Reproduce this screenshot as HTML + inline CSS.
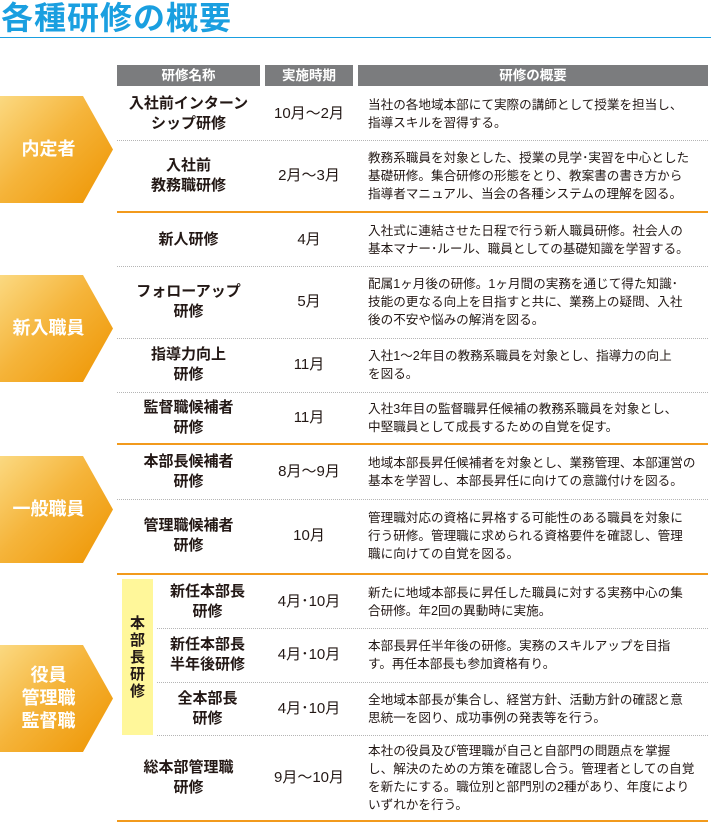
<!DOCTYPE html>
<html><head><meta charset="utf-8"><style>
*{margin:0;padding:0;box-sizing:border-box}
body{width:711px;height:823px;background:#fff;position:relative;overflow:hidden;font-family:"Liberation Sans","Noto Sans CJK JP",sans-serif;color:#231815}
.title{position:absolute;left:1px;top:0px;font-size:32px;font-weight:bold;color:#1a9fe0;letter-spacing:1px;line-height:36px}
.tline{position:absolute;left:0;top:37px;width:711px;height:1px;background:#1a9fe0}
.hd{position:absolute;top:65px;height:21px;background:#7b7c7e;color:#fff;font-size:13.5px;font-weight:bold;text-align:center;line-height:21px}
.ab{position:absolute}
.nm{position:absolute;left:117px;width:143px;text-align:center;font-size:15px;font-weight:bold;line-height:20px;display:flex;align-items:center;justify-content:center}
.pd{position:absolute;left:262px;width:94px;text-align:center;font-size:15px;line-height:20px;display:flex;align-items:center;justify-content:center}
.ds{position:absolute;left:368px;width:345px;font-size:12.6px;line-height:18px;display:flex;align-items:center;white-space:nowrap}
.dot{position:absolute;left:117px;width:591px;height:0;border-top:1px dotted #b5b5b5}
.or{position:absolute;left:117px;width:591px;height:2px;background:#f29a1c}
.chev{position:absolute;left:0;width:113px;clip-path:polygon(0 0,83px 0,113px 50%,83px 100%,0 100%);background:linear-gradient(135deg,#fbd981 0%,#f5b43a 45%,#ee9400 100%);color:#fff;font-weight:bold;font-size:18px;line-height:23px;display:flex;align-items:center;justify-content:center;padding-right:16px;text-align:center}
</style></head><body>
<div class="title">各種研修の概要</div>
<div class="tline"></div>
<div class="hd" style="left:117px;width:143px">研修名称</div>
<div class="hd" style="left:265px;width:88px">実施時期</div>
<div class="hd" style="left:358px;width:350px">研修の概要</div>

<div class="chev" style="top:96px;height:107px">内定者</div>
<div class="chev" style="top:275px;height:107px">新入職員</div>
<div class="chev" style="top:456px;height:107px">一般職員</div>
<div class="chev" style="top:645px;height:107px">役員<br>管理職<br>監督職</div>

<div class="ab" style="left:122px;top:579px;width:31px;height:156px;background:#fff79a;font-size:15px;font-weight:bold;line-height:17px;text-align:center;padding-top:36px">本<br>部<br>長<br>研<br>修</div>

<div class="nm" style="top:88px;height:52px">入社前インターン<br>シップ研修</div>
<div class="pd" style="top:88px;height:52px">10月～2月</div>
<div class="ds" style="top:88px;height:52px">当社の各地域本部にて実際の講師として授業を担当し、<br>指導スキルを習得する。</div>
<div class="dot" style="top:140px"></div>
<div class="nm" style="top:140px;height:71px">入社前<br>教務職研修</div>
<div class="pd" style="top:140px;height:71px">2月～3月</div>
<div class="ds" style="top:140px;height:71px">教務系職員を対象とした、授業の見学･実習を中心とした<br>基礎研修。集合研修の形態をとり、教案書の書き方から<br>指導者マニュアル、当会の各種システムの理解を図る。</div>
<div class="or" style="top:211px"></div>
<div class="nm" style="top:213px;height:53px">新人研修</div>
<div class="pd" style="top:213px;height:53px">4月</div>
<div class="ds" style="top:213px;height:53px">入社式に連結させた日程で行う新人職員研修。社会人の<br>基本マナー･ルール、職員としての基礎知識を学習する。</div>
<div class="dot" style="top:266px"></div>
<div class="nm" style="top:266px;height:72px">フォローアップ<br>研修</div>
<div class="pd" style="top:266px;height:72px">5月</div>
<div class="ds" style="top:266px;height:72px">配属1ヶ月後の研修。1ヶ月間の実務を通じて得た知識･<br>技能の更なる向上を目指すと共に、業務上の疑問、入社<br>後の不安や悩みの解消を図る。</div>
<div class="dot" style="top:338px"></div>
<div class="nm" style="top:338px;height:54px">指導力向上<br>研修</div>
<div class="pd" style="top:338px;height:54px">11月</div>
<div class="ds" style="top:338px;height:54px">入社1～2年目の教務系職員を対象とし、指導力の向上<br>を図る。</div>
<div class="dot" style="top:392px"></div>
<div class="nm" style="top:392px;height:52px">監督職候補者<br>研修</div>
<div class="pd" style="top:392px;height:52px">11月</div>
<div class="ds" style="top:392px;height:52px">入社3年目の監督職昇任候補の教務系職員を対象とし、<br>中堅職員として成長するための自覚を促す。</div>
<div class="or" style="top:443px"></div>
<div class="nm" style="top:445px;height:54px">本部長候補者<br>研修</div>
<div class="pd" style="top:445px;height:54px">8月～9月</div>
<div class="ds" style="top:445px;height:54px">地域本部長昇任候補者を対象とし、業務管理、本部運営の<br>基本を学習し、本部長昇任に向けての意識付けを図る。</div>
<div class="dot" style="top:499px"></div>
<div class="nm" style="top:499px;height:74px">管理職候補者<br>研修</div>
<div class="pd" style="top:499px;height:74px">10月</div>
<div class="ds" style="top:499px;height:74px">管理職対応の資格に昇格する可能性のある職員を対象に<br>行う研修。管理職に求められる資格要件を確認し、管理<br>職に向けての自覚を図る。</div>
<div class="or" style="top:573px"></div>
<div class="nm" style="top:575px;height:53px;left:155px;width:105px">新任本部長<br>研修</div>
<div class="pd" style="top:575px;height:53px">4月･10月</div>
<div class="ds" style="top:575px;height:53px">新たに地域本部長に昇任した職員に対する実務中心の集<br>合研修。年2回の異動時に実施。</div>
<div class="dot" style="top:628px;left:157px;width:551px"></div>
<div class="nm" style="top:628px;height:54px;left:155px;width:105px">新任本部長<br>半年後研修</div>
<div class="pd" style="top:628px;height:54px">4月･10月</div>
<div class="ds" style="top:628px;height:54px">本部長昇任半年後の研修。実務のスキルアップを目指<br>す。再任本部長も参加資格有り。</div>
<div class="dot" style="top:682px;left:157px;width:551px"></div>
<div class="nm" style="top:682px;height:53px;left:155px;width:105px">全本部長<br>研修</div>
<div class="pd" style="top:682px;height:53px">4月･10月</div>
<div class="ds" style="top:682px;height:53px">全地域本部長が集合し、経営方針、活動方針の確認と意<br>思統一を図り、成功事例の発表等を行う。</div>
<div class="dot" style="top:735px;left:157px;width:551px"></div>
<div class="nm" style="top:735px;height:86px">総本部管理職<br>研修</div>
<div class="pd" style="top:735px;height:86px">9月～10月</div>
<div class="ds" style="top:735px;height:86px">本社の役員及び管理職が自己と自部門の問題点を掌握<br>し、解決のための方策を確認し合う。管理者としての自覚<br>を新たにする。職位別と部門別の2種があり、年度により<br>いずれかを行う。</div>
<div class="or" style="top:820px"></div>
</body></html>
